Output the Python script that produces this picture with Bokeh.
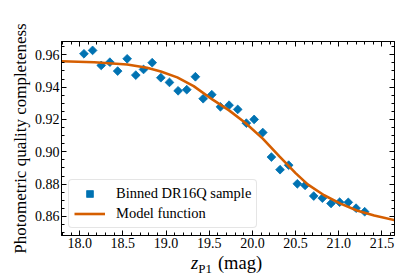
from bokeh.plotting import figure
from bokeh.layouts import column
from bokeh.models import (Range1d, SingleIntervalTicker, LinearAxis, NumeralTickFormatter,
                          CustomJSTickFormatter, Legend, LegendItem, Div)
from bokeh.embed import file_html
from bokeh.resources import INLINE
import math

# ---- data ----
bin_mag = [18.05, 18.15, 18.25, 18.35, 18.44, 18.55, 18.65, 18.74, 18.84, 18.94,
           19.04, 19.14, 19.24, 19.34, 19.43, 19.53, 19.63, 19.73, 19.83, 19.93,
           20.02, 20.12, 20.22, 20.32, 20.42, 20.52, 20.61, 20.71, 20.81, 20.91,
           21.01, 21.11, 21.20, 21.30]
bin_completeness = [0.9606, 0.9627, 0.9534, 0.9554, 0.9499, 0.9575, 0.9474, 0.9509, 0.9551, 0.9458,
                    0.9429, 0.9377, 0.9384, 0.9464, 0.9328, 0.9353, 0.9278, 0.9288, 0.9262, 0.9177,
                    0.9200, 0.9119, 0.8967, 0.8889, 0.8917, 0.8802, 0.8792, 0.8726, 0.8713, 0.8680,
                    0.8688, 0.8687, 0.8651, 0.8629]

model_mag = [17.79, 18.17, 18.55, 18.78, 18.94, 19.13, 19.32, 19.54, 19.73, 19.92,
             20.12, 20.31, 20.50, 20.64, 20.83, 21.02, 21.21, 21.41, 21.66]
model_completeness = [0.9560, 0.9554, 0.9540, 0.9520, 0.9497, 0.9460, 0.9406, 0.9322, 0.9256, 0.9178,
                      0.9081, 0.8973, 0.8868, 0.8798, 0.8731, 0.8679, 0.8637, 0.8606, 0.8575]

x_ticks_interval = 0.5
y_ticks_interval = 0.02

SERIF = "Liberation Serif, serif"
BLUE = "#0072B2"
ORANGE = "#D55E00"

p = figure(width=415, height=256, output_backend="svg", toolbar_location=None,
           x_range=Range1d(17.79, 21.645), y_range=Range1d(0.8482, 0.9682),
           min_border_left=61, min_border_right=21, min_border_top=41, min_border_bottom=21)
p.margin = (0, 0, 0, 0)
p.xgrid.visible = False
p.ygrid.visible = False
p.outline_line_color = "black"
p.outline_line_width = 1
p.background_fill_color = "white"
p.border_fill_color = "white"

pts = p.scatter(bin_mag, bin_completeness, marker="square", size=6.2, angle=math.pi / 4,
                fill_color=BLUE, line_color=BLUE, line_width=0.8)
ln = p.line(model_mag, model_completeness, line_color=ORANGE, line_width=2.6)


def style_axis(ax, interval, nminor, labels=True, fmt=None):
    ax.ticker = SingleIntervalTicker(interval=interval, num_minor_ticks=nminor)
    ax.major_tick_in = 5
    ax.major_tick_out = 0
    ax.minor_tick_in = 3
    ax.minor_tick_out = 0
    ax.major_tick_line_color = "black"
    ax.minor_tick_line_color = "black"
    ax.axis_line_color = "black"
    ax.major_label_text_font = SERIF
    ax.major_label_text_font_size = "14px"
    ax.major_label_text_color = "black"
    ax.major_label_standoff = 2
    if labels:
        ax.formatter = NumeralTickFormatter(format=fmt)
    else:
        ax.formatter = CustomJSTickFormatter(code="return ''")
        ax.major_label_standoff = 0


style_axis(p.xaxis[0], x_ticks_interval, 5, True, "0.0")
style_axis(p.yaxis[0], y_ticks_interval, 4, True, "0.00")

p.yaxis[0].axis_label = "Photometric quality completeness"
p.yaxis[0].axis_label_text_font = SERIF
p.yaxis[0].axis_label_text_font_style = "normal"
p.yaxis[0].axis_label_text_font_size = "17px"
p.yaxis[0].axis_label_text_color = "black"
p.yaxis[0].axis_label_standoff = 2

top_ax = LinearAxis()
right_ax = LinearAxis()
style_axis(top_ax, x_ticks_interval, 5, False)
style_axis(right_ax, y_ticks_interval, 4, False)
p.add_layout(top_ax, "above")
p.add_layout(right_ax, "right")

legend = Legend(items=[LegendItem(label="Binned DR16Q sample", renderers=[pts]),
                       LegendItem(label="Model function", renderers=[ln])],
                location="bottom_left")
legend.margin = 7
legend.padding = 5
legend.spacing = 3
legend.glyph_width = 31
legend.glyph_height = 17
legend.label_height = 17
legend.label_standoff = 11
legend.label_text_font = SERIF
legend.label_text_font_size = "14.5px"
legend.label_text_color = "black"
legend.border_line_color = "#cccccc"
legend.border_line_width = 1
legend.border_radius = 4
legend.background_fill_color = "white"
legend.background_fill_alpha = 0.8
p.add_layout(legend)

# x-axis label: italic z with subscript P1, then (mag)
xlabel_html = (
    '<div style="height:21px; line-height:14px; white-space:nowrap; padding-left:191px; '
    "font-family:'Liberation Serif', serif; font-size:18.5px; color:black;\">"
    '<i>z</i><span style="font-size:13px; position:relative; top:3.5px;">P1</span>'
    '<span style="margin-left:6px;">(mag)</span></div>'
)
xlabel = Div(text=xlabel_html, width=415, height=21, margin=(0, 0, 0, 0))

layout = column(p, xlabel, spacing=0)
open("out.html", "w").write(file_html(layout, INLINE))
